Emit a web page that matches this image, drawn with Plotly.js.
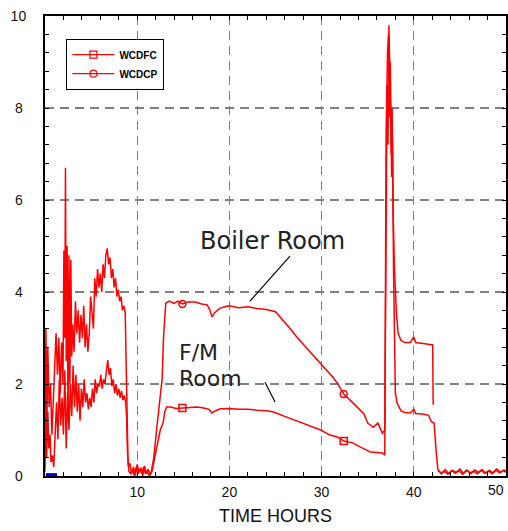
<!DOCTYPE html>
<html><head><meta charset="utf-8">
<script src="https://cdn.plot.ly/plotly-3.0.1.min.js"></script>
<style>html,body{margin:0;padding:0;background:#fff}#chart{width:508px;height:531px}</style>
</head><body><div id="chart"></div>
<script>
// WCDCP (Boiler Room, upper curve)
const boilerX = [0.0,0.1,0.2,0.3,0.45,0.6,0.75,0.9,1.05,1.2,1.35,1.5,1.65,1.8,1.95,2.05,2.15,2.22,2.3,2.4,2.5,2.6,2.7,2.8,2.9,3.0,3.15,3.3,3.45,3.6,3.75,3.9,4.05,4.2,4.35,4.5,4.65,4.8,4.95,5.1,5.25,5.4,5.55,5.7,5.85,6.0,6.15,6.3,6.45,6.6,6.75,6.9,7.05,7.2,7.35,7.5,7.65,7.8,7.95,8.1,8.25,8.4,8.55,8.7,8.8,8.9,9.0,9.1,9.3,9.5,9.7,9.9,10.1,10.3,10.5,10.7,10.9,11.1,11.3,11.5,11.8,12.1,12.4,12.7,12.85,13.1,13.5,14.0,14.4,14.9,15.5,16.3,17.0,17.6,17.9,18.1,18.4,19.0,19.5,20.0,21.0,22.0,23.0,24.0,25.0,26.0,26.6,27.4,28.3,29.0,29.8,30.5,31.2,31.7,32.4,33.4,34.2,34.6,35.0,35.6,36.1,36.6,36.85,37.0,37.1,37.2,37.3,37.4,37.55,37.65,37.75,37.9,38.1,38.3,38.6,39.0,39.6,40.0,40.2,41.0,41.8,42.05,42.1,42.12,42.6,43.0,43.4,43.8,44.2,44.6,45.0,45.4,45.8,46.2,46.6,47.0,47.4,47.8,48.2,48.6,49.0,49.4,49.8,50.0];
const boilerY = [0.6,3.2,1.0,2.8,1.5,2.0,0.9,1.6,2.6,3.1,2.2,3.0,1.8,2.9,2.0,4.9,3.0,6.7,2.5,5.0,1.2,4.8,2.0,4.7,2.6,3.3,2.7,3.8,3.1,3.6,2.9,3.5,3.0,3.7,2.8,3.3,2.7,3.1,3.9,3.6,3.2,4.3,3.9,4.5,4.1,4.4,4.0,4.6,4.3,4.8,4.95,4.6,4.75,4.3,4.5,4.1,4.3,3.9,4.05,3.8,3.9,3.6,3.7,3.55,2.45,1.3,0.35,0.1,0.05,0.15,0.0,0.2,0.05,0.15,0.05,0.2,0.05,0.1,0.0,0.07,0.4,1.0,1.5,2.1,3.0,3.76,3.8,3.75,3.8,3.74,3.78,3.78,3.74,3.72,3.6,3.46,3.55,3.65,3.68,3.7,3.66,3.68,3.64,3.62,3.57,3.35,3.2,3.0,2.8,2.65,2.45,2.3,2.15,2.02,1.78,1.59,1.43,1.35,1.15,1.06,1.15,0.93,1.0,6.0,8.5,7.2,9.8,8.8,7.0,8.0,5.8,4.5,3.6,3.1,2.95,2.9,2.9,3.02,2.9,2.88,2.85,2.85,1.55,null,0.12,0.06,0.14,0.05,0.12,0.08,0.15,0.06,0.12,0.05,0.13,0.08,0.14,0.06,0.12,0.07,0.15,0.08,0.13,0.1,0.12];
// WCDFC (F/M Room, lower curve)
const fmX = [0.0,0.08,0.18,0.3,0.42,0.55,0.65,0.8,0.95,1.1,1.25,1.4,1.55,1.7,1.85,2.0,2.15,2.3,2.45,2.6,2.75,2.9,3.05,3.2,3.35,3.5,3.65,3.8,3.95,4.1,4.25,4.4,4.55,4.7,4.85,5.0,5.15,5.3,5.45,5.6,5.75,5.9,6.05,6.2,6.35,6.5,6.65,6.8,6.95,7.1,7.25,7.4,7.55,7.7,7.85,8.0,8.15,8.3,8.45,8.6,8.75,8.85,8.95,9.05,9.2,9.4,9.6,9.8,10.0,10.2,10.4,10.6,10.8,11.0,11.2,11.4,11.6,12.0,12.2,12.5,12.8,13.0,13.2,13.6,14.2,14.9,15.5,16.5,17.2,17.8,18.1,18.5,19.0,20.0,21.0,22.0,23.0,24.0,24.8,25.5,26.2,27.0,28.0,29.0,29.9,30.9,31.7,32.4,33.4,34.0,34.9,35.3,36.0,36.6,36.85,36.9,37.0,37.15,37.25,37.35,37.45,37.6,37.7,37.8,37.9,38.0,38.2,38.6,39.0,39.6,40.0,40.2,41.0,41.6,41.9,42.2,42.4,42.6,43.0,43.3,43.7,44.1,44.5,44.9,45.3,45.7,46.1,46.5,46.9,47.3,47.7,48.1,48.5,48.9,49.3,49.7,50.0];
const fmY = [0.1,1.2,0.4,1.4,0.6,0.9,0.3,0.45,0.2,1.0,1.6,0.8,2.1,1.1,1.7,0.9,2.3,0.6,1.8,1.0,2.0,1.3,2.4,1.5,2.2,1.4,2.0,1.2,1.9,1.5,2.1,1.6,1.8,1.45,1.7,1.5,1.9,1.6,2.1,1.8,2.0,1.95,2.2,1.9,2.1,2.0,2.3,2.52,2.2,2.35,1.95,2.1,1.8,2.0,1.75,1.9,1.7,1.85,1.65,1.75,1.6,1.3,0.5,0.2,0.28,0.05,0.2,0.02,0.25,0.08,0.18,0.0,0.22,0.05,0.15,0.02,0.1,0.5,0.78,1.0,1.15,1.4,1.5,1.5,1.47,1.48,1.5,1.5,1.48,1.45,1.37,1.42,1.46,1.47,1.45,1.45,1.43,1.42,1.39,1.33,1.28,1.22,1.15,1.07,1.0,0.89,0.85,0.76,0.72,0.65,0.57,0.52,0.51,0.5,0.45,5.0,7.5,9.2,9.6,7.8,9.0,6.5,7.3,4.5,2.5,1.8,1.58,1.42,1.38,1.37,1.45,1.36,1.35,1.32,1.18,1.15,0.6,0.15,0.05,0.1,0.04,0.12,0.06,0.11,0.04,0.13,0.07,0.1,0.05,0.12,0.06,0.11,0.05,0.13,0.07,0.12,0.08];
// marker positions
const circleX = [14.9, 32.4], circleY = [3.74, 1.78];
const squareX = [14.9, 32.4], squareY = [1.48, 0.76];
// small blue trace near origin
const blueX = [0.1, 1.3], blueY = [0.03, 0.03];
const yTickVals = [0, 2, 4, 6, 8, 10];
const yTickText = ['0\u2005', '2\u2005', '4\u2005', '6\u2005', '8\u2005', '10'];
const xTickVals = [10, 20, 30, 40, 50];
const xTickText = ['10', '20', '30', '40', ''];
const xLastTick = 50, xLastLabel = '50';

const RED = 'rgb(255,0,0)';
const traces = [
  {x: fmX, y: fmY, mode: 'lines', line: {color: RED, width: 1.5}, showlegend: false, connectgaps: false},
  {x: boilerX, y: boilerY, mode: 'lines', line: {color: RED, width: 1.5}, showlegend: false, connectgaps: false},
  {x: squareX, y: squareY, mode: 'markers', marker: {symbol: 'square-open', size: 7, color: RED, line: {width: 1.5, color: RED}}, showlegend: false},
  {x: circleX, y: circleY, mode: 'markers', marker: {symbol: 'circle-open', size: 7, color: RED, line: {width: 1.5, color: RED}}, showlegend: false},
  {x: blueX, y: blueY, mode: 'lines', line: {color: 'rgb(0,0,230)', width: 3}, showlegend: false, cliponaxis: false},
  {x: [null], y: [null], name: 'WCDFC', mode: 'lines+markers', line: {color: RED, width: 1.2}, marker: {symbol: 'square-open', size: 7, color: RED, line: {width: 1.2, color: RED}}},
  {x: [null], y: [null], name: 'WCDCP', mode: 'lines+markers', line: {color: RED, width: 1.2}, marker: {symbol: 'circle-open', size: 7, color: RED, line: {width: 1.2, color: RED}}}
];

const tickFont = {family: 'Liberation Sans, Arial, sans-serif', size: 14, color: '#111'};
const annFont = {family: 'DejaVu Sans, sans-serif', size: 22, color: '#222'};
const layout = {
  width: 508, height: 531,
  margin: {l: 45, r: 2, t: 16, b: 55},
  paper_bgcolor: '#fff', plot_bgcolor: '#fff',
  showlegend: true,
  legend: {x: 0.046, y: 0.95, xanchor: 'left', yanchor: 'top', bgcolor: '#fff', bordercolor: '#000', borderwidth: 1.2,
           font: {family: 'Liberation Sans, Arial, sans-serif', size: 10, color: '#000', weight: 'bold'}, itemwidth: 42, tracegroupgap: 0},
  xaxis: {
    range: [0, 50], tickvals: xTickVals, ticktext: xTickText, ticks: 'inside', ticklen: 4, tickcolor: '#000', tickwidth: 1,
    showline: true, linecolor: '#000', linewidth: 2, mirror: 'allticks', zeroline: false,
    showgrid: true, gridcolor: '#808080', gridwidth: 1.3, griddash: '9px,6px',
    minor: {dtick: 2, ticks: 'inside', ticklen: 4, tickcolor: '#000', showgrid: false},
    tickfont: tickFont, ticklabelstandoff: 2,
    title: {text: 'TIME HOURS', font: {family: 'Liberation Sans, Arial, sans-serif', size: 18, color: '#111'}, standoff: 11}
  },
  yaxis: {
    range: [0, 10], tickvals: yTickVals, ticktext: yTickText, ticks: 'inside', ticklen: 4, tickcolor: '#000', tickwidth: 1,
    showline: true, linecolor: '#000', linewidth: 2, mirror: 'allticks', zeroline: false,
    showgrid: true, gridcolor: '#808080', gridwidth: 1.3, griddash: '9px,6px',
    minor: {dtick: 0.4, ticks: 'inside', ticklen: 4, tickcolor: '#000', showgrid: false},
    tickfont: tickFont, ticklabelstandoff: 14
  },
  annotations: [
    {x: 24.62, y: 5.11, xref: 'x', yref: 'y', text: 'Boiler Room', showarrow: false, xanchor: 'center', yanchor: 'middle',
     font: {family: 'DejaVu Sans, sans-serif', size: 24, color: '#222'}},
    {x: 14.32, y: 2.69, xref: 'x', yref: 'y', text: 'F/M', showarrow: false, xanchor: 'left', yanchor: 'middle', font: annFont},
    {x: 14.32, y: 2.12, xref: 'x', yref: 'y', text: 'Room', showarrow: false, xanchor: 'left', yanchor: 'middle', font: annFont},
    {x: xLastTick, y: 0, xref: 'x', yref: 'y', text: xLastLabel, showarrow: false, xanchor: 'right', yanchor: 'top', yshift: -4,
     font: tickFont}
  ],
  shapes: [
    {type: 'line', xref: 'x', yref: 'y', x0: 26.57, y0: 4.78, x1: 22.23, y1: 3.80, line: {color: '#000', width: 1.2}},
    {type: 'line', xref: 'x', yref: 'y', x0: 23.86, y0: 2.04, x1: 24.95, y1: 1.61, line: {color: '#000', width: 1.2}}
  ]
};
Plotly.newPlot('chart', traces, layout, {displayModeBar: false, staticPlot: true});
</script></body></html>
